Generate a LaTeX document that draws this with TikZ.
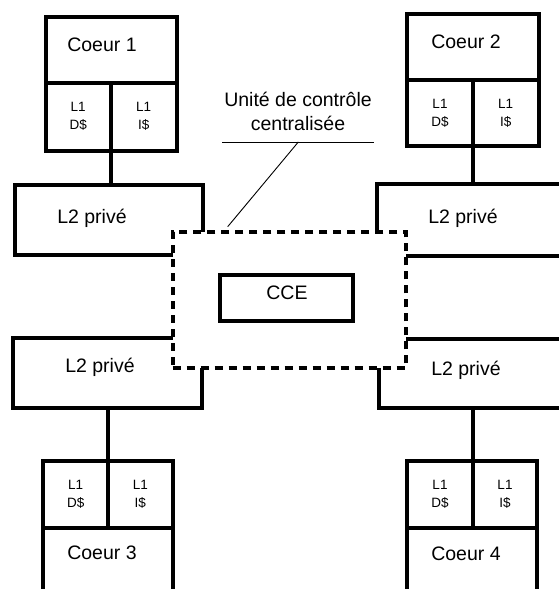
\documentclass[tikz,border=0pt]{standalone}
\usepackage{fontspec}
\setmainfont{Liberation Sans}

\begin{document}
\begin{tikzpicture}[x=1pt, y=-1pt,
    cell/.style={draw, rectangle, line width=4pt, outer sep=0pt, inner sep=0pt},
    big/.style={font=\fontsize{19.5}{24}\selectfont, align=center},
    small/.style={font=\fontsize{13.5}{18}\selectfont, align=center}]

\clip (0,0) rectangle (559,589);

% caches L2 (en partie sous l'unite de controle)
\node (l2a) at (109, 220) [cell, minimum width=188pt, minimum height=70pt] {};
\node (l2b) at (488.5, 220) [cell, minimum width=223pt, minimum height=72pt] {};
\node (l2c) at (107.5, 373) [cell, minimum width=189pt, minimum height=70pt] {};
\node (l2d) at (489.5, 373.5) [cell, minimum width=221pt, minimum height=69pt] {};

\node (l2aText) at (92, 218) [big] {L2 privé};
\node (l2bText) at (463, 218) [big] {L2 privé};
\node (l2cText) at (100, 367) [big] {L2 privé};
\node (l2dText) at (466, 370) [big] {L2 privé};

% coeur 1
\node (c1) at (111.2, 49.5) [cell, minimum width=131pt, minimum height=66pt] {};
\node (d1) at (78.2, 116.5) [cell, small, minimum width=65pt, minimum height=68pt] {L1\\D\$};
\node (i1) at (143.7, 116.5) [cell, small, minimum width=66pt, minimum height=68pt] {L1\\I\$};
\node (c1Text) at (102, 45) [big] {Coeur 1};

% coeur 2
\node (c2) at (473, 47) [cell, minimum width=131.4pt, minimum height=66pt] {};
\node (d2) at (440, 113) [cell, small, minimum width=65.4pt, minimum height=66pt] {L1\\D\$};
\node (i2) at (505.7, 113) [cell, small, minimum width=66pt, minimum height=66pt] {L1\\I\$};
\node (c2Text) at (466, 42) [big] {Coeur 2};

% coeur 3
\node (d3) at (75.7, 494.7) [cell, small, minimum width=64.7pt, minimum height=67.3pt] {L1\\D\$};
\node (i3) at (140.3, 494.7) [cell, small, minimum width=64.7pt, minimum height=67.3pt] {L1\\I\$};
\node (c3) at (108, 569) [cell, minimum width=129.4pt, minimum height=82pt] {};
\node (c3Text) at (102, 553) [big] {Coeur 3};

% coeur 4
\node (d4) at (440, 494.7) [cell, small, minimum width=65.4pt, minimum height=67.3pt] {L1\\D\$};
\node (i4) at (505, 494.7) [cell, small, minimum width=64.6pt, minimum height=67.3pt] {L1\\I\$};
\node (c4) at (472.3, 569) [cell, minimum width=130pt, minimum height=82pt] {};
\node (c4Text) at (466, 554) [big] {Coeur 4};

% liens L1 -- L2
\draw [line width=4pt] (d1.south east) -- (d1.south east |- l2a.north);
\draw [line width=4pt] (d2.south east) -- (d2.south east |- l2b.north);
\draw [line width=4pt] (l2c.south -| d3.north east) -- (d3.north east);
\draw [line width=4pt] (l2d.south -| d4.north east) -- (d4.north east);

% unite de controle centralisee
\node (ucc) at (289.2, 300) [cell, line width=3.8pt, dash pattern=on 8pt off 6pt, fill=white,
    minimum width=233pt, minimum height=136.6pt] {};
\node (cce) at (286.4, 298) [cell, minimum width=132.7pt, minimum height=45.4pt] {};
\node (cceText) at (287, 293) [big] {CCE};

\node (uccText) at (298, 111) [big] {Unité de contrôle\\centralisée};
\coordinate (barL) at (222, 142);
\coordinate (barR) at (374, 142);
\coordinate (barM) at (298.3, 142);
\coordinate (tip) at (227.7, 226.7);
\draw [line width=0.9pt] (barL) -- (barR);
\draw [line width=0.9pt] (barM) -- (tip);

\end{tikzpicture}
\end{document}
